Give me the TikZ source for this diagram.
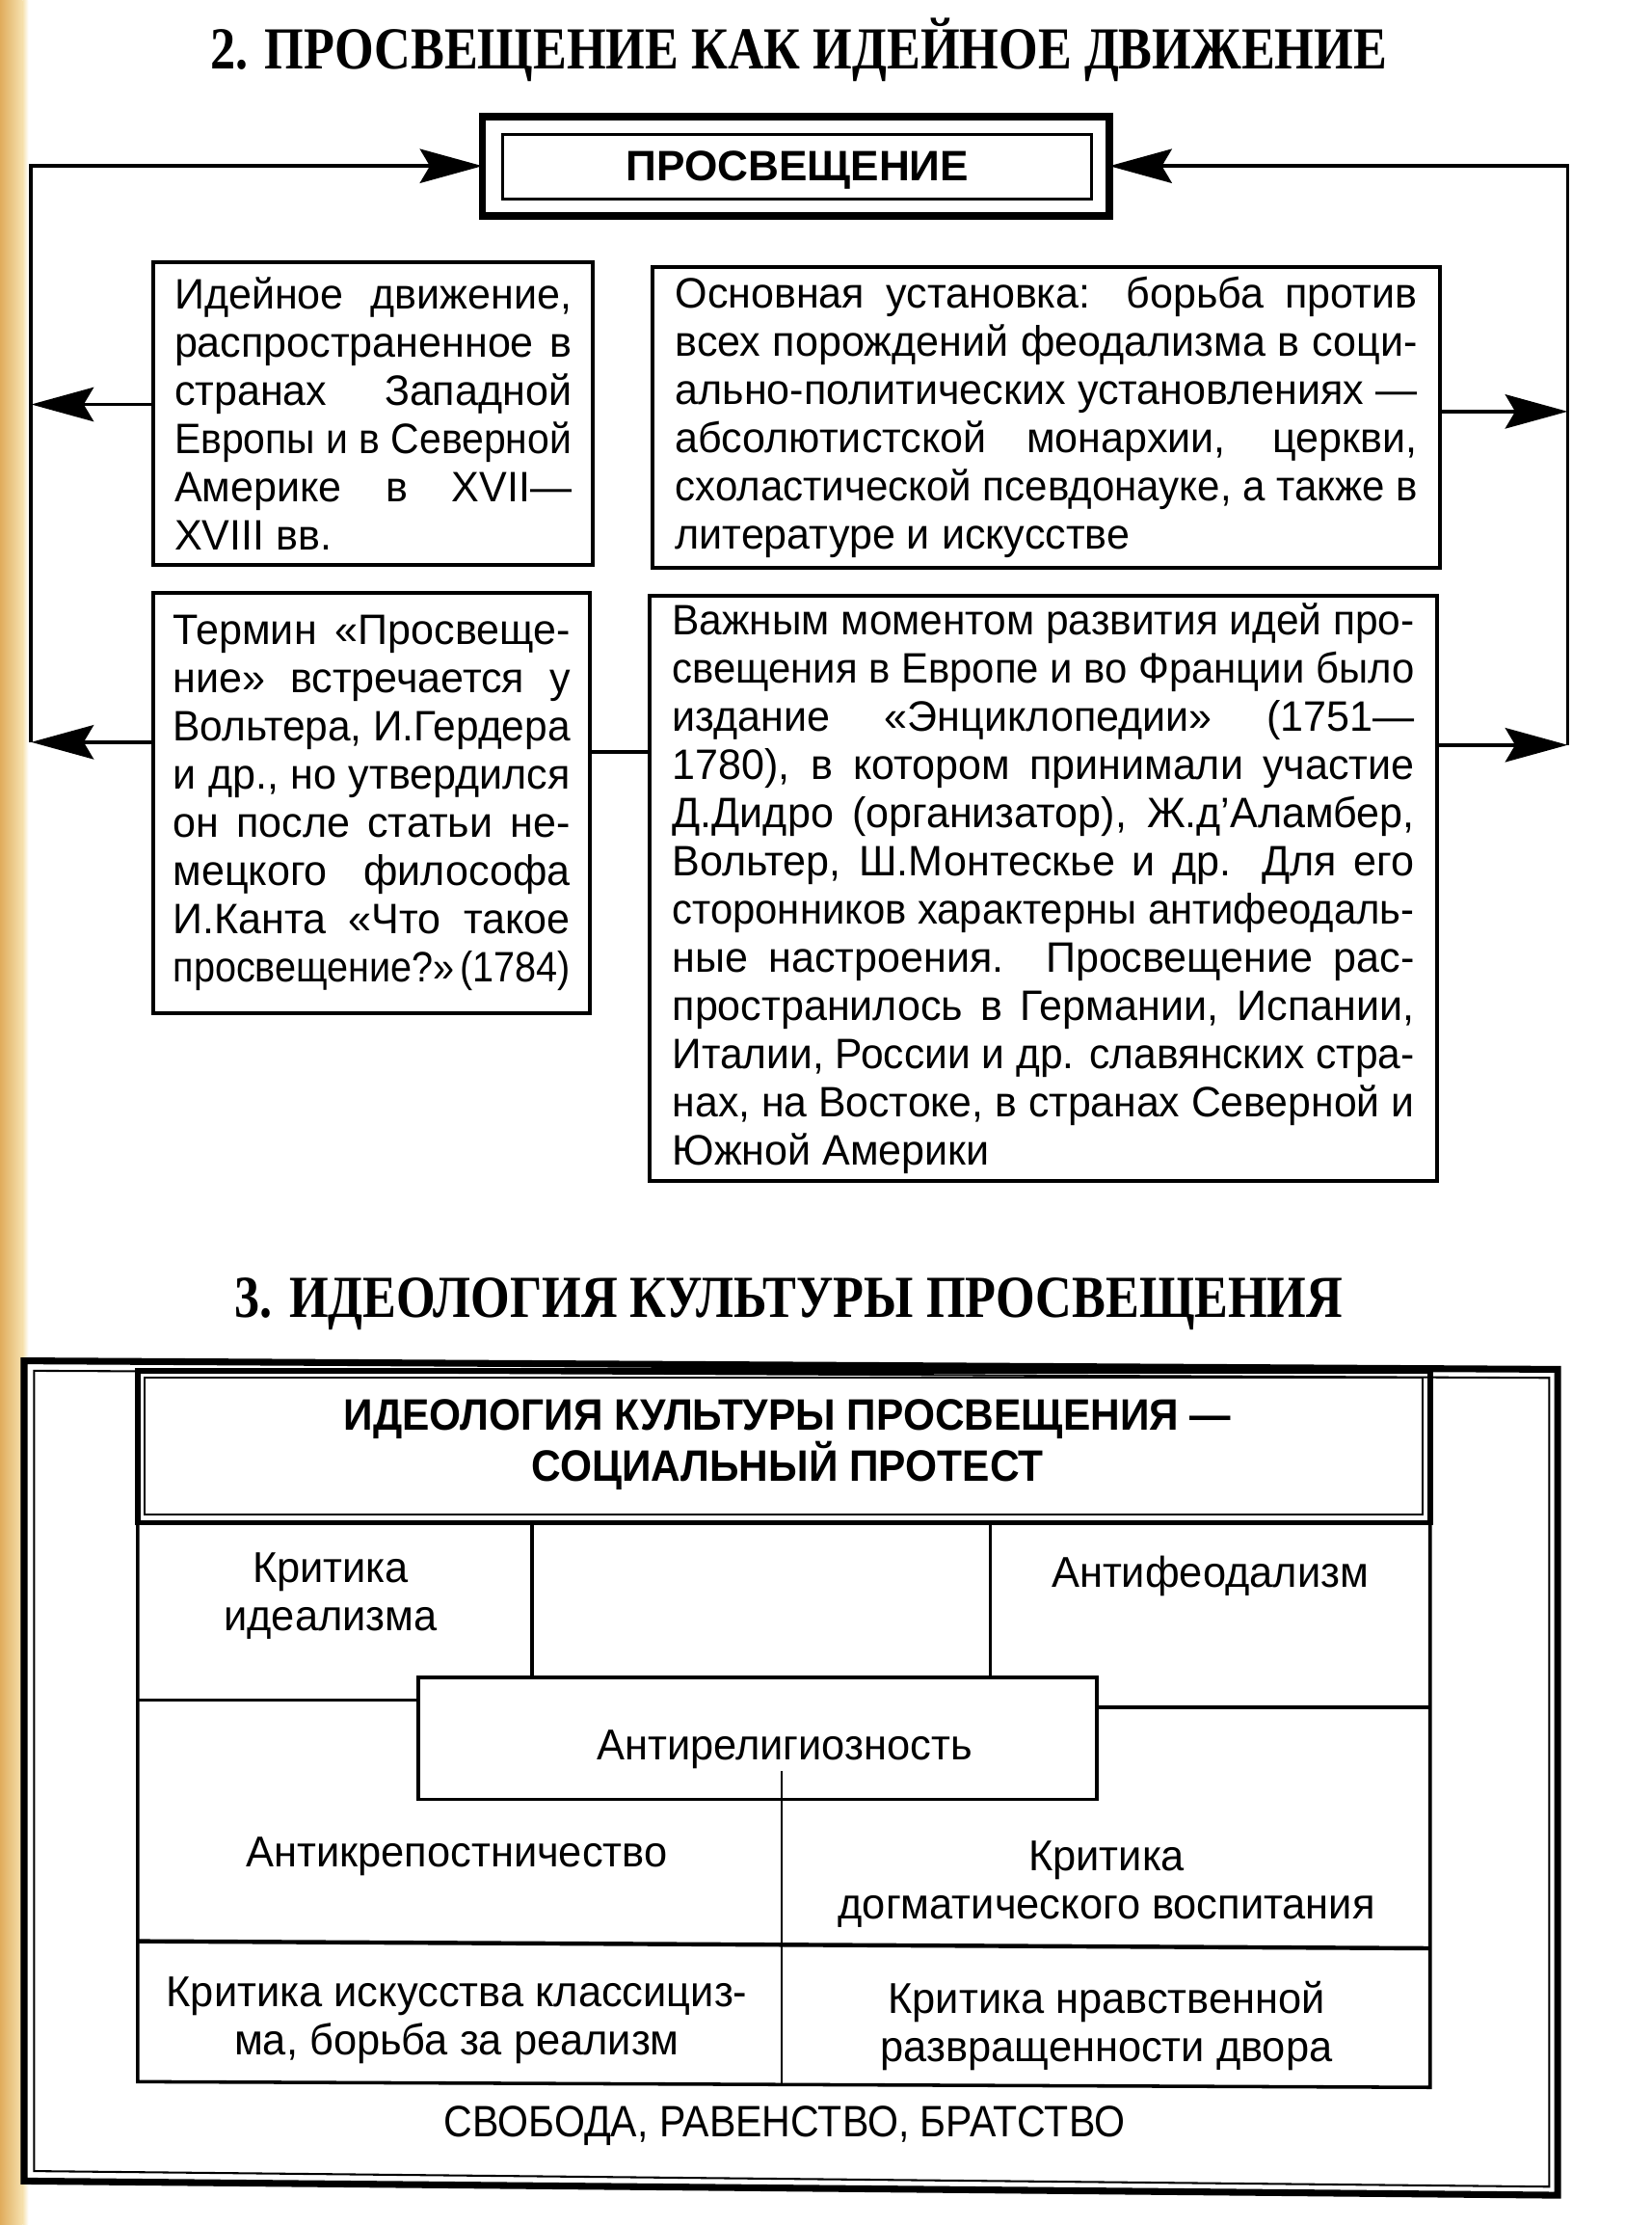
\documentclass[tikz,border=0pt]{standalone}
\usepackage{graphicx}
\usepackage{fontspec}
\setmainfont{Liberation Sans}
\newfontfamily\bodyfont[FakeStretch=0.975]{Liberation Sans}
\newfontfamily\cellfont[FakeStretch=0.97]{Liberation Sans}
\newfontfamily\titlefont[FakeStretch=0.845]{Liberation Serif}
\newfontfamily\condsans[FakeStretch=0.93]{Liberation Sans}
\newfontfamily\mottofont[FakeStretch=0.9]{Liberation Sans}
\usetikzlibrary{arrows.meta}
\newcommand\jl[2]{\sbox0{#2}\ifdim\wd0>#1\relax\resizebox{#1}{\ht0}{#2}\else\makebox[#1][s]{#2}\fi}
\definecolor{paper}{RGB}{224,172,92}
\definecolor{paperlight}{RGB}{246,226,176}
\begin{document}
\begin{tikzpicture}[x=0.5pt,y=-0.5pt,
 every node/.style={inner sep=0pt, outer sep=0pt},
 tbox/.style={draw, line width=1.3pt, font=\bodyfont\fontsize{15}{17}\selectfont, align=left},
 conn/.style={line width=1.3pt},
 arr/.style={conn, -{Stealth[length=22pt,width=12pt,inset=3.5pt]}},
 cell/.style={font=\cellfont\fontsize{15.2}{17}\selectfont, align=center},
 ttl/.style={font=\titlefont\bfseries\fontsize{21}{24}\selectfont},
 gridline/.style={line width=1.2pt},
]
\useasboundingbox (0,0) rectangle (1164,1568);

% paper edge of the scan
\shade[left color=paper, right color=paperlight] (0,0) rectangle (16,1568);
\shade[left color=paperlight, right color=white] (16,0) rectangle (20,1568);

% ---------- Section 2 ----------
\node[ttl] (t2) at (563,35) {2. ПРОСВЕЩЕНИЕ КАК ИДЕЙНОЕ ДВИЖЕНИЕ};

\node[draw, line width=2.6pt, minimum width=221pt, minimum height=35pt] (main) at (561,117) {};
\node[draw, line width=1pt, minimum width=207.5pt, minimum height=22.5pt] (maini) at (562,117.5) {};
\node[font=\bfseries\fontsize{15}{17}\selectfont] (maint) at (562,120) {ПРОСВЕЩЕНИЕ};

\node[tbox, minimum width=155pt, minimum height=106.5pt] (b1) at (263,291.5) {%
\jl{140pt}{Идейное движение,}\\
\jl{140pt}{распространенное в}\\
\jl{140pt}{странах Западной}\\
\jl{140pt}{Европы и в Северной}\\
\jl{140pt}{Америке в XVII—}\\
XVIII вв.};

\node[tbox, minimum width=277.5pt, minimum height=106pt] (b2) at (737.5,294) {%
\jl{261.5pt}{Основная установка: борьба против}\\
\jl{261.5pt}{всех порождений феодализма в соци-}\\
\jl{261.5pt}{ально-политических установлениях —}\\
\jl{261.5pt}{абсолютистской монархии, церкви,}\\
\jl{261.5pt}{схоластической псевдонауке, а также в}\\
литературе и искусстве};

\node[tbox, minimum width=154pt, minimum height=148pt] (b3) at (262,566) {%
\jl{140pt}{Термин «Просвеще-}\\
\jl{140pt}{ние» встречается у}\\
\jl{140pt}{Вольтера, И.Гердера}\\
\jl{140pt}{и др., но утвердился}\\
\jl{140pt}{он после статьи не-}\\
\jl{140pt}{мецкого философа}\\
\jl{140pt}{И.Канта «Что такое}\\
\jl{140pt}{просвещение?»\kern2pt(1784)}};

\node[tbox, minimum width=277.5pt, minimum height=206pt] (b4) at (735.5,626) {%
\jl{261.5pt}{Важным моментом развития идей про-}\\
\jl{261.5pt}{свещения в Европе и во Франции было}\\
\jl{261.5pt}{издание «Энциклопедии» (1751—}\\
\jl{261.5pt}{1780), в котором принимали участие}\\
\jl{261.5pt}{Д.Дидро (организатор), Ж.д’Аламбер,}\\
\jl{261.5pt}{Вольтер, Ш.Монтескье и др. Для его}\\
\jl{261.5pt}{сторонников характерны антифеодаль-}\\
\jl{261.5pt}{ные настроения. Просвещение рас-}\\
\jl{261.5pt}{пространилось в Германии, Испании,}\\
\jl{261.5pt}{Италии, России и др. славянских стра-}\\
\jl{261.5pt}{нах, на Востоке, в странах Северной и}\\
Южной Америки};

\coordinate (lx) at (22,0);
\coordinate (rx) at (1105,0);
\path (b1.north west) ++(0,100) coordinate (b1a);
\path (b2.north east) ++(0,102) coordinate (b2a);
\path (b3.north west) ++(0,105) coordinate (b3a);
\path (b4.north east) ++(0,105) coordinate (b4a);
\path (b3.north east) ++(0,112) coordinate (b3c);

\draw[arr] (lx |- b3a) -- (lx |- main.west) -- (main.west);
\draw[arr] (b1a) -- (lx |- b1a);
\draw[arr] (b3a) -- (lx |- b3a);
\draw[arr] (rx |- b4a) -- (rx |- main.east) -- (main.east);
\draw[arr] (b2a) -- (rx |- b2a);
\draw[arr] (b4a) -- (rx |- b4a);
\draw[conn] (b3c) -- (b3c -| b4.west);

% ---------- Section 3 ----------
\node[ttl] (t3) at (556,919) {3. ИДЕОЛОГИЯ КУЛЬТУРЫ ПРОСВЕЩЕНИЯ};

\draw[line width=2.4pt] (17,959) -- (1098,965) -- (1098,1547) -- (17,1537) -- cycle;
\draw[line width=0.7pt] (24,966) -- (1092,971) -- (1092,1541) -- (24,1530) -- cycle;

\draw[line width=1.9pt] (97,966) rectangle (1008,1073);
\draw[line width=0.7pt] (102,971) rectangle (1003,1067);
\node[font=\condsans\bfseries\fontsize{15.5}{17}\selectfont, align=center] (hdrt) at (555,1018)
  {ИДЕОЛОГИЯ КУЛЬТУРЫ ПРОСВЕЩЕНИЯ —\\СОЦИАЛЬНЫЙ ПРОТЕСТ};

\draw[gridline] (97,1073) -- (97,1467) -- (1008,1471) -- (1008,1073);
\draw[gridline] (375,1073) -- (375,1182);
\draw[gridline] (698,1073) -- (698,1182);
\draw[gridline] (97,1198) -- (295,1198);
\draw[gridline] (773,1203) -- (1008,1203);
\node[draw, line width=1.2pt, minimum width=239pt, minimum height=43pt] (ar) at (534,1225) {};
\node[cell] (art) at (553,1233) {Антирелигиозность};
\draw[line width=0.9pt] (551,1248) -- (551,1468);
\draw[line width=1.5pt] (97,1368) -- (1008,1373);

\node[cell] (c1) at (233,1125) {Критика\\идеализма};
\node[cell] (c2) at (853,1111) {Антифеодализм};
\node[cell] (c3) at (322,1308) {Антикрепостничество};
\node[cell] (c4) at (780,1328) {Критика\\догматического воспитания};
\node[cell] (c5) at (322,1424) {Критика искусства классициз-\\ма, борьба за реализм};
\node[cell] (c6) at (780,1428) {Критика нравственной\\развращенности двора};
\node[font=\mottofont\fontsize{15.5}{17}\selectfont] (motto) at (553,1498) {СВОБОДА, РАВЕНСТВО, БРАТСТВО};
\end{tikzpicture}
\end{document}
